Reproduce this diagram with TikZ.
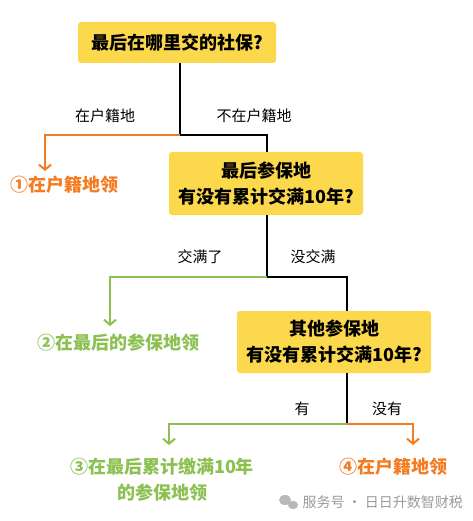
\documentclass[tikz,border=0pt]{standalone}
\usepackage{fontspec}
\setmainfont{Noto Sans CJK SC}
\usetikzlibrary{arrows.meta}

\definecolor{boxyellow}{HTML}{FCD84C}
\definecolor{homeorange}{HTML}{F47B20}
\definecolor{leafgreen}{HTML}{8CC152}
\definecolor{markgray}{HTML}{9A9A9A}

\tikzset{
  question/.style={fill=boxyellow, rounded corners=3pt, align=center,
    font=\fontsize{18}{26}\selectfont\bfseries, inner sep=0pt,
    minimum width=194pt, minimum height=62pt},
  branch/.style={font=\fontsize{15}{18}\selectfont},
  answer/.style={font=\fontsize{18}{26}\selectfont\bfseries, align=center},
  stem/.style={line width=2pt, black},
  tohome/.style={line width=2pt, homeorange, -{Straight Barb[length=5pt,width=12pt]}},
  tolast/.style={line width=2pt, leafgreen, -{Straight Barb[length=5pt,width=12pt]}},
}

\begin{document}
\begin{tikzpicture}[x=1pt,y=-1pt]
  \useasboundingbox (0,0) rectangle (472,521);

  % questions
  \node (askWhere) [question, minimum width=198pt, minimum height=41pt] at (177,42.5)
    {最后在哪里交的社保?};
  \node (askLast) [question, minimum height=63pt] at (266,183.5)
    {最后参保地\\有没有累计交满10年?};
  \node (askOther) [question] at (334,342)
    {其他参保地\\有没有累计交满10年?};

  % answers
  \node (ansHome) [answer, text=homeorange] at (64,185) {①在户籍地领};
  \node (ansLast) [answer, text=leafgreen] at (118,343) {②在最后的参保地领};
  \node (ansSum) [answer, text=leafgreen] at (162,480)
    {③在最后累计缴满10年\\的参保地领};
  \node (ansHome2) [answer, text=homeorange] at (393,467) {④在户籍地领};

  % junctions and arrow ends
  \coordinate (splitA) at (180,135);
  \coordinate (splitB) at (267,277);
  \coordinate (splitC) at (347,424);
  \coordinate (endHome) at (45,171);
  \coordinate (endLast) at (110,326);
  \coordinate (endSum) at (169,445);
  \coordinate (endHome2) at (413,445);

  % first split
  \draw[stem] (askWhere.south -| splitA) -- (splitA);
  \draw[stem] (splitA) -| (askLast.north -| splitB);
  \draw[tohome] (splitA) -| (endHome);
  \node (lblHome) [branch] at (105,116) {在户籍地};
  \node (lblNotHome) [branch] at (254,116) {不在户籍地};

  % second split
  \draw[stem] (askLast.south -| splitB) -- (splitB);
  \draw[stem] (splitB) -| (askOther.north -| splitC);
  \draw[tolast] (splitB) -| (endLast);
  \node (lblFull) [branch] at (200,257) {交满了};
  \node (lblShort) [branch] at (313,257) {没交满};

  % third split
  \draw[stem] (askOther.south -| splitC) -- (splitC);
  \draw[tolast] (splitC) -| (endSum);
  \draw[tohome] (splitC) -| (endHome2);
  \node (lblYes) [branch] at (302,409) {有};
  \node (lblNo) [branch] at (387,409) {没有};

  % watermark
  \fill[markgray!70] (285,500) ellipse (6pt and 5pt);
  \fill[markgray!70] (293,505) ellipse (5pt and 4.2pt);
  \node (mark) [font=\fontsize{14}{16}\selectfont, text=markgray, anchor=west]
    at (299,502) {服务号 · 日日升数智财税};
\end{tikzpicture}
\end{document}
